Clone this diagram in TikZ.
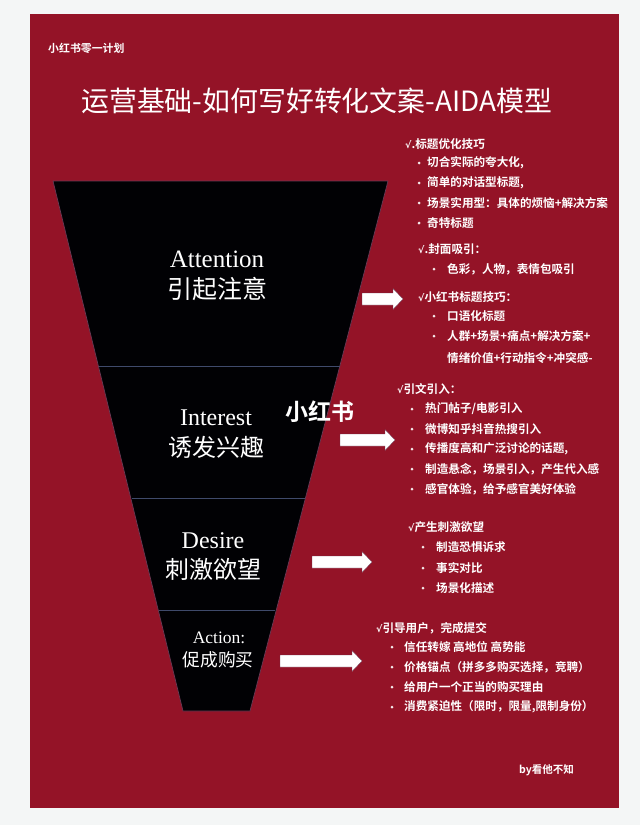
\documentclass[tikz,border=0pt]{standalone}
\usepackage{fontspec}
\setmainfont{Liberation Serif}
\newfontfamily\cjk{Noto Sans CJK SC}[BoldFont={Noto Sans CJK SC Bold}]
\newfontfamily\symf{DejaVu Sans}[BoldFont={DejaVu Sans Bold}]
\newcommand{\ck}{{\symf\fontsize{9.5}{12}\selectfont √}}
\definecolor{pagebg}{HTML}{F4F6F6}
\definecolor{panel}{HTML}{941327}
\definecolor{funnel}{HTML}{010104}
\definecolor{divider}{HTML}{3F4A6B}
\definecolor{edge}{HTML}{6A3A55}
\tikzset{
 x=1pt,y=-1pt,
 item/.style={anchor=west,inner sep=0pt,text=white,font=\cjk\bfseries\fontsize{11.6}{13}\selectfont},
 bul/.style={circle,fill=white!90!panel,inner sep=0pt,minimum size=3pt},
 fen/.style={inner sep=0pt,text=white,font=\fontsize{#1}{#1}\selectfont},
 fzh/.style={inner sep=0pt,text=white,font=\cjk\fontsize{#1}{#1}\selectfont},
 arrowshape/.style={fill=white,draw=edge,line width=.3pt},
}
\newcommand{\blockarrow}[3]{% x0, x1, y
 \filldraw[arrowshape] (#1,#3-6) -- (#2-10,#3-6) -- (#2-10,#3-10.5) -- (#2,#3) -- (#2-10,#3+10.5) -- (#2-10,#3+6) -- (#1,#3+6) -- cycle;}
\newcommand{\listrow}[5]{% name, bullet x, text x, y, text
 \node[bul] (b#1) at (#2,#4) {}; \node[item] (x#1) at (#3,#4) {#5};}
\begin{document}
\begin{tikzpicture}
\useasboundingbox (0,0) rectangle (640,825);
\fill[pagebg] (0,0) rectangle (640,825);
\fill[panel] (30,14) rectangle (619,808);
% funnel
\filldraw[fill=funnel,draw=edge,line width=.7pt] (53,181) -- (388,181) -- (250,711) -- (183,711) -- cycle;
\draw[divider,line width=.8pt] (99,366) -- (340,366);
\draw[divider,line width=.8pt] (132,498) -- (305,498);
\draw[divider,line width=.8pt] (159,610) -- (275,610);
% header
\node[anchor=west,inner sep=0pt,text=white,font=\cjk\bfseries\fontsize{10.9}{12}\selectfont] (brand) at (48,48) {小红书零一计划};
\node[anchor=west,inner sep=0pt,text=white,font=\cjk\fontsize{27.9}{30}\selectfont] (title) at (81,101) {运营基础-如何写好转化文案-AIDA模型};
% funnel text
\node[fen=25] (a1) at (217,259) {Attention};
\node[fzh=25] (a2) at (217,289) {引起注意};
\node[fen=24] (i1) at (216,418) {Interest};
\node[fzh=24] (i2) at (216,447) {诱发兴趣};
\node[fen=24] (d1) at (213,541) {Desire};
\node[fzh=24] (d2) at (213,569) {刺激欲望};
\node[fen=17.5] (c1) at (219,638) {Action:};
\node[fzh=17.75] (c2) at (218,660) {促成购买};
% arrows
\blockarrow{362}{403}{299}
\blockarrow{340}{395}{440}
\blockarrow{312}{372}{562}
\blockarrow{280}{362}{661}
% list 1
\node[item] (t1) at (405,144) {\ck.标题优化技巧};
\listrow{a}{419}{427}{163}{切合实际的夸大化,}
\listrow{b}{419}{427}{183}{简单的对话型标题,}
\listrow{c}{419}{427}{203}{场景实用型：具体的烦恼+解决方案}
\listrow{d}{419}{427}{223}{奇特标题}
\node[item] (t2) at (418,249) {\ck.封面吸引：};
\listrow{e}{434}{447}{269}{色彩，人物，表情包吸引}
\node[item] (t3) at (418,297) {\ck 小红书标题技巧：};
\listrow{f}{434}{447}{316}{口语化标题}
\listrow{g}{434}{447}{336}{人群+场景+痛点+解决方案+}
\node[item] (xh) at (447,358) {情绪价值+行动指令+冲突感-};
% list 2
\node[item] (t4) at (397,389) {\ck 引文引入：};
\listrow{i}{412}{425}{409}{热门帖子/电影引入}
\listrow{j}{412}{425}{429}{微博知乎抖音热搜引入}
\listrow{k}{412}{425}{449}{传播度高和广泛讨论的话题,}
\listrow{l}{412}{425}{469}{制造悬念，场景引入，产生代入感}
\listrow{m}{412}{425}{489}{感官体验，给予感官美好体验}
% list 3
\node[item] (t5) at (408,527) {\ck 产生刺激欲望};
\listrow{n}{423}{436}{547}{制造恐惧诉求}
\listrow{o}{423}{436}{568}{事实对比}
\listrow{p}{423}{436}{588}{场景化描述}
% list 4
\node[item] (t6) at (376,628) {\ck 引导用户，完成提交};
\listrow{q}{392}{404}{647}{信任转嫁 高地位 高势能}
\listrow{r}{392}{404}{667}{价格锚点（拼多多购买选择，竞聘）}
\listrow{s}{392}{404}{687}{给用户一个正当的购买理由}
\listrow{t}{392}{404}{707}{消费紧迫性（限时，限量,限制身份）}
\node[anchor=west,inner sep=0pt,text=white,font=\cjk\bfseries\fontsize{10.5}{12}\selectfont] (by) at (519,770) {by看他不知};
% watermark
\node[inner sep=0pt,text=white,font=\cjk\bfseries\fontsize{23}{25}\selectfont] (wm) at (320,412) {小红书};
\end{tikzpicture}
\end{document}
